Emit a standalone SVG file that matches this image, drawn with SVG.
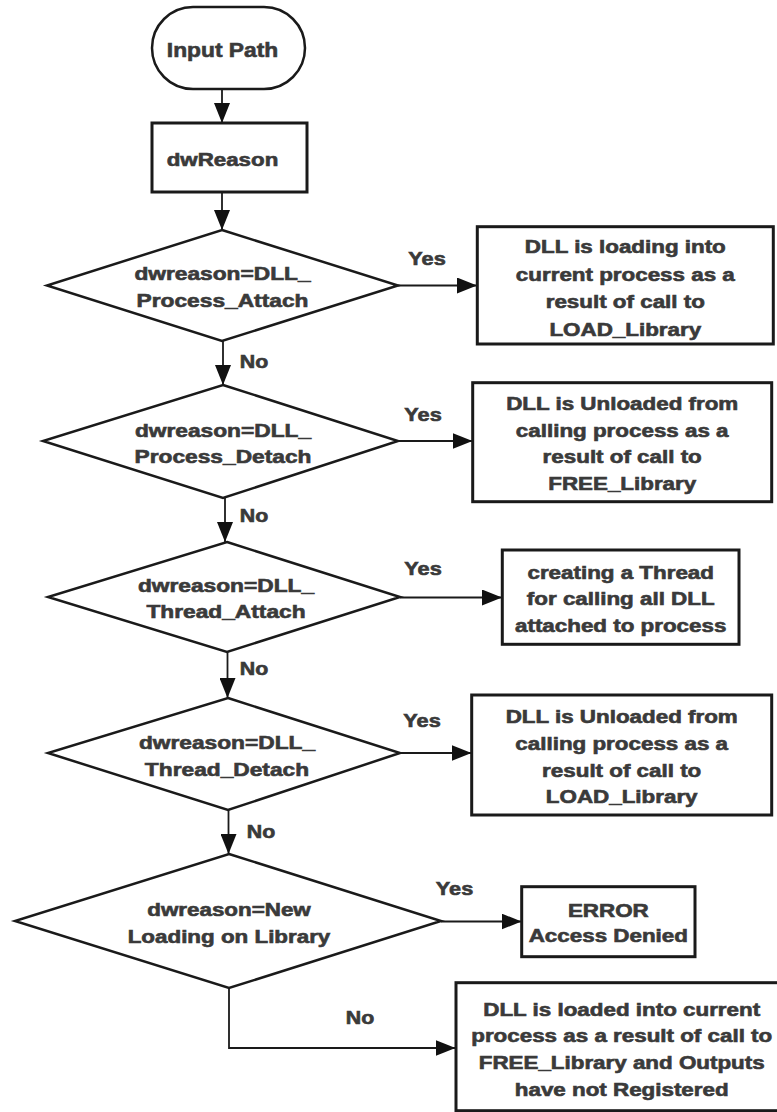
<svg xmlns="http://www.w3.org/2000/svg" width="777" height="1112" viewBox="0 0 777 1112">
<style>
.bg{fill:#ffffff}
.box{fill:#ffffff;stroke:#1a1a1a;stroke-width:3}
.dia{fill:#ffffff;stroke:#1a1a1a;stroke-width:2.5}
.term{fill:#ffffff;stroke:#1a1a1a;stroke-width:2.5}
.con{fill:none;stroke:#1a1a1a;stroke-width:1.8}
.t{font-family:"Liberation Sans",Arial,sans-serif;font-weight:bold;font-size:17.5px;fill:#3a3a3a;stroke:#3a3a3a;stroke-width:0.6;text-anchor:middle}
.lbl{font-family:"Liberation Sans",Arial,sans-serif;font-weight:bold;font-size:17.5px;fill:#3a3a3a;stroke:#3a3a3a;stroke-width:0.6;text-anchor:middle}
</style>
<defs>
<marker id="ah" markerUnits="userSpaceOnUse" markerWidth="21" markerHeight="16" refX="20" refY="8" orient="auto">
<path d="M0,0 L20,8 L0,16 z" fill="#111111"/>
</marker>
</defs>
<rect class="bg" x="0" y="0" width="777" height="1112"/>

<g id="connectors">
<line class="con" x1="222" y1="89" x2="222" y2="123" marker-end="url(#ah)"/>
<line class="con" x1="222" y1="192" x2="222" y2="230" marker-end="url(#ah)"/>
<line class="con" x1="398" y1="285.5" x2="477" y2="285.5" marker-end="url(#ah)"/>
<line class="con" x1="223" y1="341" x2="223" y2="385" marker-end="url(#ah)"/>
<line class="con" x1="398" y1="441" x2="472.5" y2="441" marker-end="url(#ah)"/>
<line class="con" x1="225" y1="498" x2="225" y2="542" marker-end="url(#ah)"/>
<line class="con" x1="400" y1="597.5" x2="502" y2="597.5" marker-end="url(#ah)"/>
<line class="con" x1="227.5" y1="652" x2="227.5" y2="698" marker-end="url(#ah)"/>
<line class="con" x1="400" y1="753" x2="471.5" y2="753" marker-end="url(#ah)"/>
<line class="con" x1="228.5" y1="810" x2="228.5" y2="854" marker-end="url(#ah)"/>
<line class="con" x1="441" y1="921.5" x2="521.5" y2="921.5" marker-end="url(#ah)"/>
<polyline class="con" points="229,988 229,1048 455.5,1048" marker-end="url(#ah)"/>
<g transform="translate(427,0) scale(1.24,1)"><text class="lbl" x="0" y="265">Yes</text></g>
<g transform="translate(254,0) scale(1.22,1)"><text class="lbl" x="0" y="368">No</text></g>
<g transform="translate(423,0) scale(1.24,1)"><text class="lbl" x="0" y="421">Yes</text></g>
<g transform="translate(254,0) scale(1.22,1)"><text class="lbl" x="0" y="521.7">No</text></g>
<g transform="translate(423,0) scale(1.24,1)"><text class="lbl" x="0" y="575">Yes</text></g>
<g transform="translate(254,0) scale(1.22,1)"><text class="lbl" x="0" y="675">No</text></g>
<g transform="translate(422,0) scale(1.24,1)"><text class="lbl" x="0" y="726.7">Yes</text></g>
<g transform="translate(261,0) scale(1.22,1)"><text class="lbl" x="0" y="838">No</text></g>
<g transform="translate(454.5,0) scale(1.24,1)"><text class="lbl" x="0" y="895">Yes</text></g>
<g transform="translate(360,0) scale(1.22,1)"><text class="lbl" x="0" y="1024.3">No</text></g>
</g>

<g id="start">
<rect class="term" x="152" y="7" width="153" height="82" rx="41" ry="41"/>
<g transform="translate(222.5,0) scale(1.14,1)"><text class="t" style="font-size:20px" x="0" y="57">Input Path</text></g>
</g>

<g id="dwReason">
<rect class="box" x="152" y="123" width="155" height="69"/>
<g transform="translate(222.5,0) scale(1.275,1)"><text class="t" x="0" y="166">dwReason</text></g>
</g>

<g id="d1">
<polygon class="dia" points="222,230 398,285.5 222,341 47,285.5"/>
<g transform="translate(222.5,0) scale(1.3,1)"><text class="t"><tspan x="0" y="280">dwreason=DLL_</tspan><tspan x="0" y="306.7">Process_Attach</tspan></text></g>
</g>

<g id="b1">
<rect class="box" x="477.3" y="226.7" width="296" height="117.3"/>
<g transform="translate(625.3,0) scale(1.28,1)"><text class="t"><tspan x="0" y="253.3">DLL is loading into</tspan><tspan x="0" y="280.7">current process as a</tspan><tspan x="0" y="308.3">result of call to</tspan><tspan x="0" y="335.7">LOAD_Library</tspan></text></g>
</g>

<g id="d2">
<polygon class="dia" points="223,385 398,441 223,498 43,441"/>
<g transform="translate(223,0) scale(1.3,1)"><text class="t"><tspan x="0" y="436.7">dwreason=DLL_</tspan><tspan x="0" y="463">Process_Detach</tspan></text></g>
</g>

<g id="b2">
<rect class="box" x="472.7" y="382.7" width="299" height="119"/>
<g transform="translate(622.2,0) scale(1.28,1)"><text class="t"><tspan x="0" y="410">DLL is Unloaded from</tspan><tspan x="0" y="436.7">calling process as a</tspan><tspan x="0" y="463.3">result of call to</tspan><tspan x="0" y="490">FREE_Library</tspan></text></g>
</g>

<g id="d3">
<polygon class="dia" points="227,542 400,597 227,652 48,597"/>
<g transform="translate(226,0) scale(1.3,1)"><text class="t"><tspan x="0" y="591.7">dwreason=DLL_</tspan><tspan x="0" y="618.3">Thread_Attach</tspan></text></g>
</g>

<g id="b3">
<rect class="box" x="502.3" y="550" width="236.7" height="94.3"/>
<g transform="translate(620.7,0) scale(1.28,1)"><text class="t"><tspan x="0" y="579.3">creating a Thread</tspan><tspan x="0" y="605">for calling all DLL</tspan><tspan x="0" y="631.7">attached to process</tspan></text></g>
</g>

<g id="d4">
<polygon class="dia" points="228,698 400,753 228,810 48,753"/>
<g transform="translate(227,0) scale(1.3,1)"><text class="t"><tspan x="0" y="749.3">dwreason=DLL_</tspan><tspan x="0" y="776">Thread_Detach</tspan></text></g>
</g>

<g id="b4">
<rect class="box" x="471.7" y="695" width="300" height="120"/>
<g transform="translate(621.7,0) scale(1.28,1)"><text class="t"><tspan x="0" y="723.3">DLL is Unloaded from</tspan><tspan x="0" y="750">calling process as a</tspan><tspan x="0" y="776.7">result of call to</tspan><tspan x="0" y="803.3">LOAD_Library</tspan></text></g>
</g>

<g id="d5">
<polygon class="dia" points="229,854 441,921 229,988 15,921"/>
<g transform="translate(229,0) scale(1.28,1)"><text class="t"><tspan x="0" y="916">dwreason=New</tspan><tspan x="0" y="942.7">Loading on Library</tspan></text></g>
</g>

<g id="b5">
<rect class="box" x="521.7" y="886.7" width="173.3" height="70"/>
<g transform="translate(608.3,0) scale(1.28,1)"><text class="t"><tspan x="0" y="916.7">ERROR</tspan><tspan x="0" y="941.7">Access Denied</tspan></text></g>
</g>

<g id="b6">
<rect class="box" x="456" y="982.7" width="334" height="128"/>
<g transform="translate(621.7,0) scale(1.28,1)"><text class="t"><tspan x="0" y="1015.7">DLL is loaded into current</tspan><tspan x="0" y="1042.3">process as a result of call to</tspan><tspan x="0" y="1069">FREE_Library and Outputs</tspan><tspan x="0" y="1095.7">have not Registered</tspan></text></g>
</g>
</svg>
